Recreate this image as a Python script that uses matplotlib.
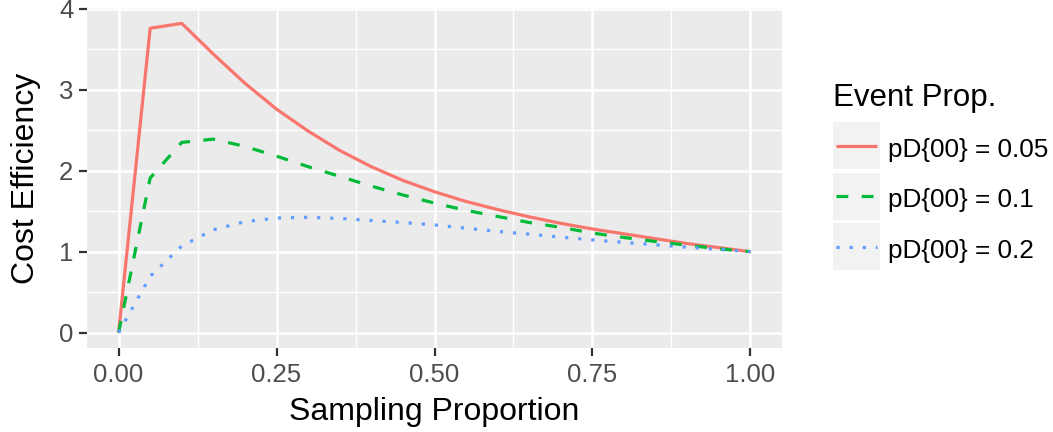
import matplotlib
matplotlib.use("Agg")
import matplotlib.pyplot as plt
from matplotlib.patches import Rectangle
from matplotlib.lines import Line2D
import numpy as np

plt.rcParams['font.family'] = ['Liberation Sans', 'DejaVu Sans']

# ---- data ----
sampling_prop = [0.00, 0.05, 0.10, 0.15, 0.20, 0.25, 0.30, 0.35, 0.40, 0.45, 0.50,
                 0.55, 0.60, 0.65, 0.70, 0.75, 0.80, 0.85, 0.90, 0.95, 1.00]
eff_p005 = [0.00, 3.76, 3.82, 3.44, 3.08, 2.76, 2.49, 2.25, 2.05, 1.88, 1.74,
            1.62, 1.52, 1.43, 1.35, 1.28, 1.22, 1.16, 1.10, 1.05, 1.00]
eff_p010 = [0.00, 1.91, 2.35, 2.39, 2.30, 2.18, 2.05, 1.93, 1.81, 1.70, 1.60,
            1.51, 1.435, 1.36, 1.30, 1.23, 1.175, 1.125, 1.08, 1.035, 1.00]
eff_p020 = [0.00, 0.695, 1.07, 1.27, 1.37, 1.415, 1.425, 1.41, 1.385, 1.36, 1.33,
            1.29, 1.25, 1.215, 1.18, 1.145, 1.115, 1.085, 1.055, 1.028, 1.00]
series_labels = ["pD{00} = 0.05", "pD{00} = 0.1", "pD{00} = 0.2"]
legend_title = "Event Prop."
x_ticks = [0.00, 0.25, 0.50, 0.75, 1.00]
x_ticklabels = ["0.00", "0.25", "0.50", "0.75", "1.00"]
y_ticks = [0, 1, 2, 3, 4]
y_ticklabels = ["0", "1", "2", "3", "4"]

colors = ["#F8766D", "#00BA38", "#619CFF"]
lw = 2.3
styles = ['-', (0, (3.7, 4.2)), (0, (1.0, 3.1))]

W, H = 1053, 432
fig = plt.figure(figsize=(W / 100, H / 100), dpi=100)

def fx(px):
    return px / W

def fy(py):
    return 1 - py / H

pl, pr, pt, pb = 87, 782, 8, 348
ax = fig.add_axes([fx(pl), fy(pb), fx(pr - pl), (pb - pt) / H])
ax.set_facecolor("#EBEBEB")
for s in ax.spines.values():
    s.set_visible(False)

ax.set_xlim(-0.05, 1.05)
ax.set_ylim(-0.19, 4.01)

ax.set_xticks(x_ticks)
ax.set_xticklabels(x_ticklabels)
ax.set_yticks(y_ticks)
ax.set_yticklabels(y_ticklabels)
ax.set_xticks([0.125, 0.375, 0.625, 0.875], minor=True)
ax.set_yticks([0.5, 1.5, 2.5, 3.5], minor=True)

ax.grid(which='major', color='white', linewidth=1.8)
ax.grid(which='minor', color='white', linewidth=1.0)
ax.set_axisbelow(True)
ax.tick_params(which='major', length=5.8, width=1.6, color='#333333',
               labelsize=18.5, labelcolor='#4D4D4D')
ax.tick_params(axis='x', which='major', pad=5)
ax.tick_params(axis='y', which='major', pad=4)
ax.tick_params(which='minor', length=0)

series = [eff_p005, eff_p010, eff_p020]
for vals, c, ls in zip(series, colors, styles):
    ax.plot(sampling_prop, vals, color=c, linewidth=lw, linestyle=ls,
            dash_capstyle='butt', solid_capstyle='butt', clip_on=False)

fig.text(fx(434.5), fy(420), "Sampling Proportion", ha='center', va='baseline',
         fontsize=23, color='black')
fig.text(fx(26), fy(178), "Cost Efficiency", ha='center', va='center',
         rotation=90, fontsize=23, color='black')

# ---- legend ----
lax = fig.add_axes([0, 0, 1, 1])
lax.set_xlim(0, W)
lax.set_ylim(H, 0)
lax.axis('off')
lax.text(833, 106, legend_title, ha='left', va='baseline', fontsize=22.5, color='black')
key_tops = [122, 172.5, 223]
key_size = 47
for lab, c, ls, top in zip(series_labels, colors, styles, key_tops):
    lax.add_patch(Rectangle((833, top), key_size, key_size, facecolor='#F2F2F2',
                            edgecolor='none'))
    cy = top + key_size / 2
    lax.add_line(Line2D([836, 877], [cy, cy], color=c, linewidth=lw, linestyle=ls,
                        dash_capstyle='butt', solid_capstyle='butt'))
    lax.text(888, cy + 11.5, lab, ha='left', va='baseline', fontsize=18.8, color='black')

fig.savefig("out.png", dpi=100)
